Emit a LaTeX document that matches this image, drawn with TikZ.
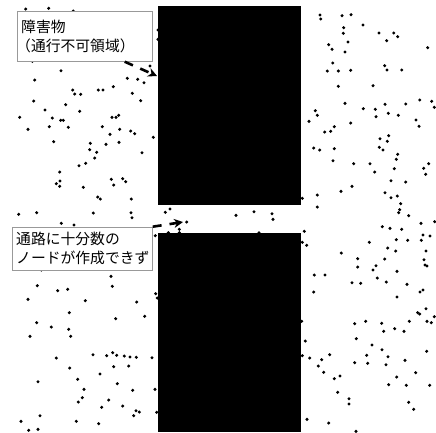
\documentclass[tikz,border=0pt]{standalone}
\usepackage{fontspec}
\newfontfamily\jpfont{Noto Sans CJK JP}
\usetikzlibrary{arrows.meta,positioning}
\tikzset
{
  obstacle/.style = {rectangle, fill=black, inner sep=0pt, outer sep=0pt, anchor=north west},
  note/.style     = {rectangle, draw=black!40, fill=white, line width=1pt, align=left, anchor=north west, inner xsep=4pt, inner ysep=3pt, font=\jpfont\fontsize{14.8}{19}\selectfont},
  pointer/.style  = {-{Stealth[length=9pt,width=9pt]}, line width=2.6pt, dash pattern=on 9pt off 8pt},
  sample/.style   = {fill=black}
}

\begin{document}
\begin{tikzpicture}[x=1pt,y=-1pt]
  \useasboundingbox (0,0) rectangle (436,432);
  % sampled points
  \foreach \x/\y in {25.7/9,48.7/8.3,73.3/11,150/66,32.3/61.3,61/70.7,34.7/80,72.7/90,74.7/94,80.7/94.3,98.3/90,103/90,113.3/86.7,127.3/78.3,137.7/79.3,144/82.7,132.3/93.3,158/30,158/39.3,
    33.7/101,65.7/104.7,140.7/100.7,45/110,79.7/111.3,19.7/117.3,52.3/118,60.7/120.3,63.3/120.3,112/117.3,116/117.3,118.7/115.3,28/129.3,49.3/126.7,68.3/127.3,102.3/126.7,119.7/129.3,130.7/131,134.7/133.7,110/134.3,153.3/137.3,53.7/141.7,90.3/143.3,106/144.3,119/142.3,89.7/149.7,96.7/152.3,142/152.7,94.7/158,79/165.7,85.7/163.3,59.7/172,60/181,56.3/183.7,59.7/186.3,83.3/187.3,111.3/179.3,122.7/178.7,125.7/181.7,113.7/185,97.7/197,100.3/199,131.3/199,
    18.7/214.3,36.7/212.7,61.3/223.3,93.3/213,131/212.7,132/217.7,165.3/212.3,170/209,74/225,155.3/235.7,168.3/232.7,179.3/232.7,179.3/229.3,186.7/222,236/215.3,254/211.7,272/213.7,273/219.3,259/232.7,
    41.3/270,111/276.3,37.3/285.7,112.3/286.3,57.7/290.7,67.7/289.3,155.7/293.7,157.3/298,28/299.3,85.3/300.7,136.7/302,69.3/312.7,144.7/316.3,115.7/318.7,36.7/322.7,51.3/327,68.7/329.3,30/336.3,70.7/336.3,93/354.7,106.7/355.7,112.7/352.7,116.7/355.3,124.3/356,130/357,136.3/357.3,152/357.7,56.3/358,113.7/366.7,128.7/366,69.7/368,100/374,77.7/379.3,38/381.7,117.3/383.7,84/389.3,132.7/390.3,155/389.3,82.3/397.7,78.3/402,108.7/400,101.7/407.3,122.7/406,136/410.7,139.3/412,156.7/412.3,133.7/415.7,40/415.7,21/421.3,76.3/421.3,98.7/423.7,28.7/430.3,38/429.3,
    320/15,320.7/19,342/15.7,351/14.7,363/25,343.7/27.7,343.3/33.3,379/33,393.7/33,397.7/36.7,386.7/40.7,348/42,328.7/44.7,332/49.3,345/52,427.7/47.7,332.7/63,327.3/71,338.3/71,350.7/70.3,384.7/65.7,387/70,401.7/70,338.3/86.3,373/85.7,345/103.3,363.3/108.7,375.3/109.3,385/104.3,405.7/104,419.7/100,431.7/101.3,434.3/107.3,315.3/110.7,317.3/115.3,376/116.7,388.3/113.3,398.3/115.3,309/121.3,350.7/123,416/120,419/126.3,334.3/126.7,330.7/131.3,324.7/132,380/138.7,388.7/135.7,387.3/141.3,
    313.7/148,319.7/150,334.3/148.7,379.3/147.3,383/150,397.7/154.3,396.3/159.3,333/160.7,353.7/163.7,370/163.7,394.3/168.7,428.7/163.7,423.7/168.3,425.7/174.3,374.7/172,391/180.7,405.7/182,352/186.3,341/191.3,317.3/195,302.3/198.3,385/192.7,391/197.7,397.3/196,400.7/203.7,399.7/209.7,398.7/212.7,317.3/207,408.7/215.7,421/223.3,434.7/221.7,382.3/226.7,390/228.3,401.7/229.3,304.3/231.3,423/235,430/236,421.3/240.3,396.3/239.7,407.7/240.3,302.3/242.3,306.7/245.3,369.3/242.3,387.7/248,395.7/251,426/251,341.3/253,384.7/259,357.7/258.7,424/259.7,357.7/267,376/265.7,373/270,425/265,427/266,397/271.3,314.3/275,325/275,377.3/278,352/282.7,360.7/283.3,386.3/282,407/284.3,
    313.7/292,397/297,420/292,423/290,426/308.7,417.7/312.7,419.7/314,434.3/316.7,409.3/321.3,427/321.3,431.3/322.7,301.7/321.3,354.7/323.7,365.7/321.3,381.7/323.3,394.7/328.7,383.7/331.3,404/331.3,356.3/338.7,305.3/341,372/345,382/349.7,426.7/351.3,302.3/355.7,309.7/358,329.7/354.7,321.7/359.7,366.7/355.3,388/356.7,318.3/366,354.7/362.7,367.7/363.3,386/364.7,405/360.3,323.7/372.3,415.7/372.7,334.3/378.7,340/376,396.7/377,388.7/384.7,406.3/385.3,429.7/385.3,337.7/392.3,349/398.7,349/404,408.7/402.3,413.7/409.3,307/419.3,328.7/423,356/431.3}
    \fill[sample] (\x,\y) circle (1.7pt);
  % obstacles
  \node[obstacle, minimum width=142.5pt, minimum height=199.3pt] (upper) at (158.3,6) {};
  \node[obstacle, minimum width=142.5pt, minimum height=199pt] (lower) at (158.3,233.3) {};
  % notes
  \node[note, text width=127pt, minimum height=50pt] (wall) at (16.7,10.7) {障害物\\\hspace*{-5pt}（通行不可領域）};
  \node[note, text width=132pt, minimum height=43.3pt] (narrow) at (11.7,226.7) {通路に十分数の\\ノードが作成できず};
  \coordinate (wallhit) at (157,76);
  \coordinate (gaphit) at (183,222);
  \draw[pointer] ([xshift=-28pt]wall.south east) -- (wallhit);
  \draw[pointer] (narrow.north east) -- (gaphit);
\end{tikzpicture}
\end{document}
